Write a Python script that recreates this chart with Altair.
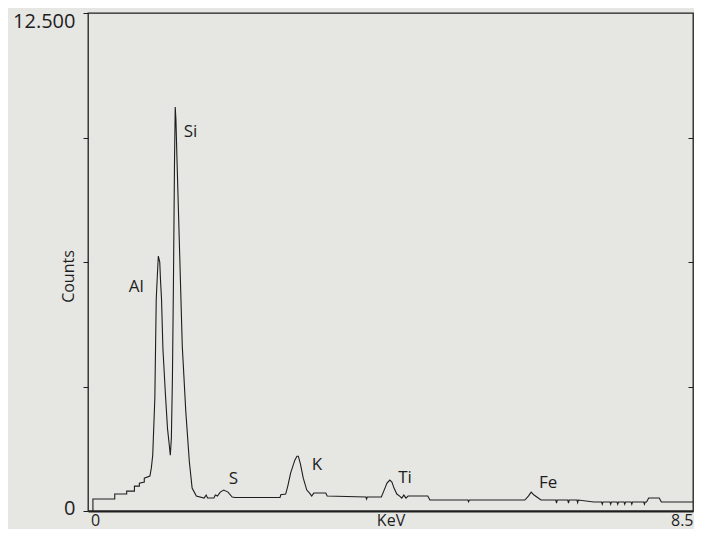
import altair as alt
import pandas as pd

# Spectrum trace (energy in keV as drawn on the axis, counts)
kev = [-0.03, -0.03, 0.28, 0.28, 0.45, 0.45, 0.56, 0.56, 0.63, 0.63, 0.70, 0.70,
       0.78, 0.80, 0.82, 0.85, 0.87, 0.89, 0.90, 0.92, 0.93, 0.945, 0.965, 1.00,
       1.03, 1.06, 1.07, 1.085, 1.10, 1.115, 1.13, 1.14, 1.15, 1.165, 1.20, 1.24,
       1.29, 1.34, 1.38, 1.44, 1.55, 1.58, 1.60, 1.69, 1.71, 1.74, 1.78, 1.83,
       1.89, 1.95, 1.99, 2.63, 2.64, 2.71, 2.74, 2.78, 2.84, 2.87, 2.89, 2.92,
       2.96, 3.01, 3.05, 3.08, 3.11, 3.28, 3.30, 3.85, 3.86, 3.87, 4.07, 4.11,
       4.15, 4.19, 4.22, 4.25, 4.29, 4.33, 4.36, 4.39, 4.42, 4.45, 4.73, 4.76,
       5.30, 5.31, 5.32, 6.11, 6.16, 6.20, 6.24, 6.28, 6.34, 6.55, 6.56, 6.57,
       6.72, 6.73, 6.74, 6.85, 6.86, 6.87, 7.09, 7.10, 7.20, 7.21, 7.22, 7.32,
       7.33, 7.34, 7.42, 7.43, 7.44, 7.52, 7.53, 7.54, 7.62, 7.63, 7.64, 7.80,
       7.81, 7.82, 7.84, 7.87, 8.02, 8.05, 8.50]
counts = [0, 300, 300, 425, 425, 500, 500, 625, 625, 700, 725, 825,
          875, 1075, 1400, 2825, 5320, 6070, 6400, 6250, 5820, 5320, 4070, 2950,
          2075, 1575, 1400, 1825, 3320, 5820, 8820, 10140, 9820, 8820, 6645, 4145,
          2500, 1250, 575, 375, 325, 400, 325, 325, 400, 375, 475, 525,
          475, 350, 340, 340, 410, 425, 625, 950, 1275, 1375, 1375, 1175,
          825, 525, 450, 375, 450, 450, 375, 350, 300, 350, 350, 525,
          700, 775, 725, 575, 425, 375, 325, 400, 325, 375, 375, 275,
          275, 230, 275, 275, 375, 475, 400, 350, 275, 275, 200, 275,
          275, 200, 275, 275, 210, 275, 225, 225, 225, 170, 225, 225,
          170, 225, 225, 170, 225, 225, 170, 225, 225, 170, 225, 225,
          170, 225, 225, 325, 325, 225, 225]

# Element labels
elements = ["Al", "Si", "S", "K", "Ti", "Fe"]
label_kev = [0.48, 1.26, 1.90, 3.08, 4.31, 6.31]
label_counts = [5620, 9520, 800, 1160, 825, 700]

y_ticks = [0, 3125, 6250, 9375, 12500]
x_ticks = [0, 8.5]

spec = pd.DataFrame({"kev": kev, "counts": counts, "order": list(range(len(kev)))})
labels = pd.DataFrame({"kev": label_kev, "counts": label_counts, "el": elements})

FONT = "Open Sans"
INK = "#1e1e1e"

x_scale = alt.Scale(domain=[-0.1, 8.5], nice=False, zero=False)
y_scale = alt.Scale(domain=[0, 12500], nice=False)

line = alt.Chart(spec).mark_line(color=INK, strokeWidth=1.1, interpolate="linear").encode(
    x=alt.X("kev:Q", scale=x_scale,
            axis=alt.Axis(values=x_ticks, title="KeV", grid=False, ticks=False, tickSize=0,
                          labelExpr="datum.value == 0 ? '0' : '8.5'",
                          labelAlign={"condition": {"test": "datum.value > 1", "value": "right"},
                                      "value": "center"},
                          labelBaseline="alphabetic", labelPadding=14,
                          labelFontSize=16, labelFont=FONT, labelColor=INK,
                          titleFontSize=16, titleFont=FONT, titleFontWeight="normal",
                          titleColor=INK, titleY=14, titleBaseline="alphabetic",
                          domainColor=INK, domainWidth=2.0)),
    y=alt.Y("counts:Q", scale=y_scale,
            axis=alt.Axis(values=y_ticks, title="Counts", grid=False,
                          labelExpr="datum.value == 0 ? '0' : (datum.value == 12500 ? '12.500' : '')",
                          labelBaseline="middle",
                          labelOffset={"condition": {"test": "datum.value > 10000", "value": 8},
                                       "value": -3},
                          tickSize=5, tickColor=INK, labelPadding=8,
                          labelFontSize=20, labelFont=FONT, labelColor=INK,
                          titleFontSize=16, titleFont=FONT, titleFontWeight="normal",
                          titleColor=INK, titleX=-20, titleY=263, titleBaseline="middle",
                          domain=False)),
    order="order:Q",
)

right_ticks = alt.Chart(spec).mark_line(opacity=0).encode(
    x=alt.X("kev:Q", scale=x_scale),
    y=alt.Y("counts:Q", scale=y_scale,
            axis=alt.Axis(orient="right", values=[3125, 6250, 9375], labels=False, title=None,
                          grid=False, domain=False, tickSize=5, offset=-5, tickColor=INK)),
)

text = alt.Chart(labels).mark_text(align="left", baseline="middle", fontSize=17,
                                   font=FONT, color=INK).encode(
    x=alt.X("kev:Q", scale=x_scale),
    y=alt.Y("counts:Q", scale=y_scale, axis=None),
    text="el:N",
)

chart = alt.layer(line, right_ticks, text).resolve_scale(y="independent").properties(
    width=605, height=498,
    background="#e6e6e3",
    padding={"left": 80, "top": 5, "right": 1, "bottom": 18},
    autosize=alt.AutoSizeParams(type="none"),
).configure_view(stroke=INK, strokeWidth=1.3)

chart.save("out.html", embed_options={"renderer": "svg", "actions": False})
